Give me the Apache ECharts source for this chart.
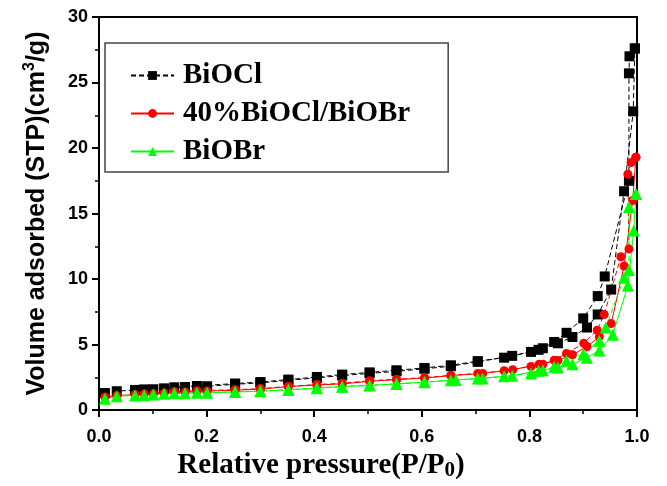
<!DOCTYPE html>
<html>
<head>
<meta charset="utf-8">
<title>isotherm</title>
<script src="https://cdn.jsdelivr.net/npm/echarts@6.0.0/dist/echarts.min.js"></script>
<style>
  html, body { margin: 0; padding: 0; background: #fff; }
  #isotherm { width: 667px; height: 486px; }
</style>
</head>
<body>
<div id="isotherm"></div>
<script>
// sample names (legend order)
const sampleNames = ["BiOCl", "40%BiOCl/BiOBr", "BiOBr"];

// BiOCl - adsorption / desorption branches
const bioclAdsX = [0.011, 0.033, 0.067, 0.101, 0.121, 0.160, 0.201, 0.253, 0.300, 0.352, 0.405, 0.452, 0.503, 0.553, 0.605, 0.654, 0.704, 0.768, 0.817, 0.853, 0.880, 0.907, 0.927, 0.952, 0.976, 0.993, 0.996];
const bioclAdsY = [1.30, 1.44, 1.54, 1.59, 1.66, 1.76, 1.82, 1.97, 2.08, 2.27, 2.46, 2.64, 2.80, 2.96, 3.15, 3.35, 3.68, 4.14, 4.60, 5.10, 5.58, 6.30, 7.30, 9.20, 16.7, 22.8, 27.6];
const bioclDesX = [0.996, 0.986, 0.985, 0.985, 0.940, 0.927, 0.900, 0.869, 0.846, 0.825, 0.803, 0.753, 0.704, 0.654, 0.605, 0.553, 0.503, 0.452, 0.405, 0.352, 0.300, 0.253, 0.182, 0.140, 0.084];
const bioclDesY = [27.6, 27.0, 25.7, 17.5, 10.2, 8.7, 7.0, 5.9, 5.2, 4.72, 4.44, 4.0, 3.74, 3.42, 3.22, 3.04, 2.88, 2.71, 2.53, 2.33, 2.14, 2.03, 1.84, 1.74, 1.58];

// 40%BiOCl/BiOBr
const compAdsX = [0.011, 0.033, 0.067, 0.101, 0.121, 0.160, 0.201, 0.253, 0.300, 0.352, 0.405, 0.452, 0.503, 0.553, 0.605, 0.654, 0.713, 0.769, 0.818, 0.853, 0.880, 0.907, 0.930, 0.952, 0.976, 0.992, 0.998];
const compAdsY = [1.00, 1.10, 1.19, 1.25, 1.30, 1.38, 1.45, 1.52, 1.60, 1.79, 1.92, 2.00, 2.20, 2.32, 2.45, 2.63, 2.80, 3.08, 3.50, 3.78, 4.22, 4.85, 5.60, 6.60, 11.0, 16.0, 19.3];
const compDesX = [0.998, 0.989, 0.983, 0.985, 0.970, 0.939, 0.926, 0.901, 0.869, 0.846, 0.825, 0.803, 0.753, 0.704, 0.654, 0.605, 0.553, 0.503, 0.452, 0.405, 0.352, 0.300, 0.253, 0.182, 0.140, 0.084];
const compDesY = [19.3, 18.9, 18.0, 12.3, 11.7, 7.3, 6.1, 5.1, 4.32, 3.81, 3.50, 3.33, 3.00, 2.80, 2.66, 2.48, 2.36, 2.24, 2.05, 1.95, 1.82, 1.64, 1.56, 1.48, 1.42, 1.24];

// BiOBr
const biobrAdsX = [0.011, 0.033, 0.067, 0.101, 0.121, 0.160, 0.201, 0.253, 0.300, 0.352, 0.405, 0.452, 0.503, 0.553, 0.605, 0.663, 0.713, 0.768, 0.817, 0.853, 0.880, 0.907, 0.930, 0.955, 0.983, 0.994, 0.998];
const biobrAdsY = [0.86, 1.06, 1.12, 1.20, 1.24, 1.28, 1.32, 1.38, 1.44, 1.54, 1.67, 1.79, 1.87, 2.00, 2.12, 2.30, 2.42, 2.63, 3.00, 3.26, 3.50, 4.00, 4.55, 5.75, 9.5, 13.7, 16.5];
const biobrDesX = [0.998, 0.985, 0.985, 0.976, 0.942, 0.930, 0.900, 0.869, 0.846, 0.825, 0.803, 0.753, 0.704, 0.654, 0.605, 0.553, 0.503, 0.452, 0.405, 0.352, 0.300, 0.253, 0.182, 0.140, 0.084];
const biobrDesY = [16.5, 15.5, 10.7, 10.1, 6.3, 5.3, 4.27, 3.76, 3.30, 3.05, 2.80, 2.58, 2.42, 2.28, 2.14, 2.02, 1.90, 1.81, 1.69, 1.56, 1.46, 1.40, 1.33, 1.29, 1.14];

function pairs(xs, ys) {
  return xs.map((x, i) => [x, ys[i]]);
}

function branch(name, xs, ys, color, symbol, size, dashed) {
  return {
    name: name,
    type: "line",
    data: pairs(xs, ys),
    symbol: symbol,
    symbolSize: size,
    itemStyle: { color: color },
    lineStyle: { color: color, width: 1, type: dashed ? [5, 3] : "solid" },
    emphasis: { disabled: true }
  };
}

let chart = echarts.init(document.getElementById("isotherm"));

const tickFont = {
  color: "#000",
  fontSize: 18,
  fontWeight: "bold",
  fontFamily: "Liberation Sans, Arial, sans-serif"
};

let option = {
  animation: false,
  grid: {
    left: 99,
    right: 30,
    top: 17,
    bottom: 73,
    show: true,
    borderColor: "#000",
    borderWidth: 2
  },
  legend: {
    data: sampleNames,
    orient: "vertical",
    left: 105,
    top: 43,
    padding: [18, 38, 6, 25],
    itemGap: 9,
    itemWidth: 43,
    itemHeight: 11,
    borderColor: "#444",
    borderWidth: 1.5,
    textStyle: {
      color: "#000",
      fontSize: 29,
      lineHeight: 29,
      fontWeight: "bold",
      fontFamily: "Liberation Serif, Times New Roman, serif",
      padding: [0, 0, 0, 4]
    }
  },
  xAxis: {
    type: "value",
    min: 0,
    max: 1,
    interval: 0.2,
    name: "Relative pressure(P/P{sub|0})",
    nameLocation: "middle",
    nameGap: 40,
    nameTextStyle: {
      color: "#000",
      fontSize: 29,
      lineHeight: 30,
      fontWeight: "bold",
      fontFamily: "Liberation Serif, Times New Roman, serif",
      // title sits left of the plot centre in the original
      padding: [0, 94, 0, 0],
      rich: {
        sub: {
          fontSize: 21,
          lineHeight: 16,
          verticalAlign: "bottom",
          fontWeight: "bold",
          fontFamily: "Liberation Serif, Times New Roman, serif"
        }
      }
    },
    axisLine: { show: true, lineStyle: { color: "#000", width: 2 } },
    axisTick: { show: true, length: 7, lineStyle: { color: "#000", width: 2 } },
    minorTick: { show: true, splitNumber: 2, length: 4, lineStyle: { color: "#000", width: 1.5 } },
    axisLabel: Object.assign({ margin: 18, formatter: v => v.toFixed(1) }, tickFont),
    splitLine: { show: false }
  },
  yAxis: {
    type: "value",
    min: 0,
    max: 30,
    interval: 5,
    name: "Volume adsorbed (STP)(cm{sup|3}/g)",
    nameLocation: "middle",
    nameGap: 47,
    nameRotate: 90,
    nameTextStyle: {
      color: "#000",
      fontSize: 25,
      lineHeight: 30,
      fontWeight: "bold",
      fontFamily: "Liberation Sans, Arial, sans-serif",
      rich: {
        sup: {
          fontSize: 16,
          lineHeight: 12,
          verticalAlign: "top",
          fontWeight: "bold",
          fontFamily: "Liberation Sans, Arial, sans-serif"
        }
      }
    },
    axisLine: { show: true, lineStyle: { color: "#000", width: 2 } },
    axisTick: { show: true, length: 7, lineStyle: { color: "#000", width: 2 } },
    minorTick: { show: true, splitNumber: 2, length: 4, lineStyle: { color: "#000", width: 1.5 } },
    axisLabel: Object.assign({ margin: 11 }, tickFont),
    splitLine: { show: false }
  },
  series: [
    branch(sampleNames[0], bioclAdsX, bioclAdsY, "#000000", "rect", 10, true),
    branch(sampleNames[0], bioclDesX, bioclDesY, "#000000", "rect", 10, true),
    branch(sampleNames[1], compAdsX, compAdsY, "#ff0000", "circle", 9, false),
    branch(sampleNames[1], compDesX, compDesY, "#ff0000", "circle", 9, true),
    branch(sampleNames[2], biobrAdsX, biobrAdsY, "#00ff00", "triangle", 12, false),
    branch(sampleNames[2], biobrDesX, biobrDesY, "#00ff00", "triangle", 12, true)
  ]
};

chart.setOption(option);
window.addEventListener("resize", () => {
  chart.resize();
});
</script>
</body>
</html>
